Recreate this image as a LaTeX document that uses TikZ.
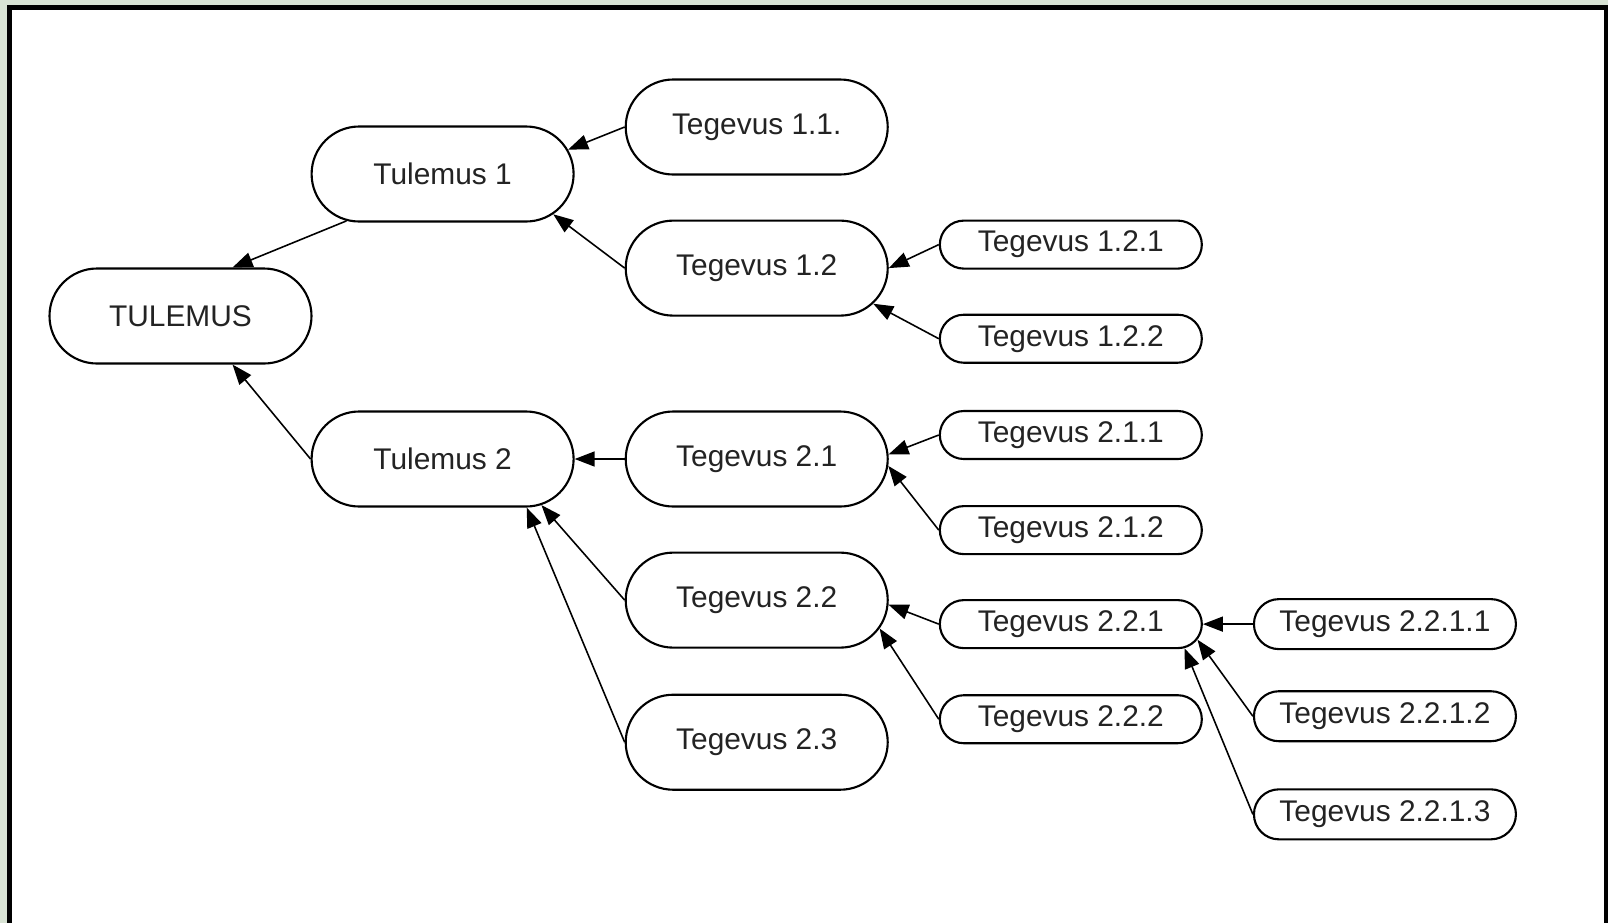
\documentclass[tikz,border=0pt]{standalone}
\usepackage{fontspec}
\setmainfont{Liberation Sans}
\usetikzlibrary{positioning}
\usetikzlibrary{shapes.misc}
\usetikzlibrary{arrows.meta}
\definecolor{bggreen}{RGB}{216,227,212}
\definecolor{tgrey}{RGB}{35,35,35}

\begin{document}
\begin{tikzpicture}[box/.style={draw, rounded rectangle, line width=0.6pt, inner sep=0pt, minimum width=2.62cm, font=\fontsize{8.5}{10}\selectfont, text=tgrey},
    big/.style={box, minimum height=0.95cm},
    small/.style={box, minimum height=0.48cm},
    tiny/.style={box, minimum height=0.5cm},
    arrow/.style={-{Triangle[length=2mm, width=1.5mm]}, line width=0.45pt},
]

    % frame
    \fill[bggreen] (-1.805,3.16) rectangle (14.275,-6.07);
    \fill[black] (-1.735,3.11) rectangle (14.275,-6.07);
    \fill[white] (-1.685,3.06) rectangle (14.235,-6.07);

    \node[big] (main) {TULEMUS};
    \node[big, right=-0.02cm of main, yshift=1.42cm] (tul1) {Tulemus 1};
    \node[big, right=-0.02cm of main, yshift=-1.43cm] (tul2) {Tulemus 2};

    \node[big, right=0.5cm of tul1, yshift=0.47cm] (teg11) {Tegevus 1.1.};
    \node[big, below=0.44cm of teg11] (teg12) {Tegevus 1.2};
    \node[big, right=0.5cm of tul2] (teg21) {Tegevus 2.1};
    \node[big, below=0.44cm of teg21] (teg22) {Tegevus 2.2};
    \node[big, below=0.45cm of teg22] (teg23) {Tegevus 2.3};

    \node[small, right=0.5cm of teg12, yshift=0.235cm] (teg121) {Tegevus 1.2.1};
    \node[small, below=0.44cm of teg121] (teg122) {Tegevus 1.2.2};
    \node[small, right=0.5cm of teg21, yshift=0.24cm] (teg211) {Tegevus 2.1.1};
    \node[small, below=0.45cm of teg211] (teg212) {Tegevus 2.1.2};
    \node[small, right=0.5cm of teg22, yshift=-0.24cm] (teg221) {Tegevus 2.2.1};
    \node[small, below=0.45cm of teg221] (teg222) {Tegevus 2.2.2};

    \node[tiny, right=0.5cm of teg221] (teg2211) {Tegevus 2.2.1.1};
    \node[tiny, below=0.4cm of teg2211] (teg2212) {Tegevus 2.2.1.2};
    \node[tiny, below=0.46cm of teg2212] (teg2213) {Tegevus 2.2.1.3};

    \draw[arrow] (tul1.206) -- (main.43);
    \draw[arrow] (tul2.west) -- (main.-43);

    \draw[arrow] (teg11.west) -- (tul1.11);
    \draw[arrow] (teg12.west) -- (tul1.-20);
    \draw[arrow] (teg21.west) -- (tul2.east);
    \draw[arrow] (teg22.west) -- (tul2.-25);
    \draw[arrow] (teg23.west) -- (tul2.-30);

    \draw[arrow] (teg121.west) -- (teg12.east);
    \draw[arrow] (teg122.west) -- (teg12.-17);
    \draw[arrow] (teg211.west) -- (teg21.2);
    \draw[arrow] (teg212.west) -- (teg21.-3);
    \draw[arrow] (teg221.west) -- (teg22.-2);
    \draw[arrow] (teg222.west) -- (teg22.-13);

    \draw[arrow] (teg2211.west) -- (teg221.east);
    \draw[arrow] (teg2212.west) -- (teg221.-7);
    \draw[arrow] (teg2213.west) -- (teg221.-12);

\end{tikzpicture}
\end{document}
